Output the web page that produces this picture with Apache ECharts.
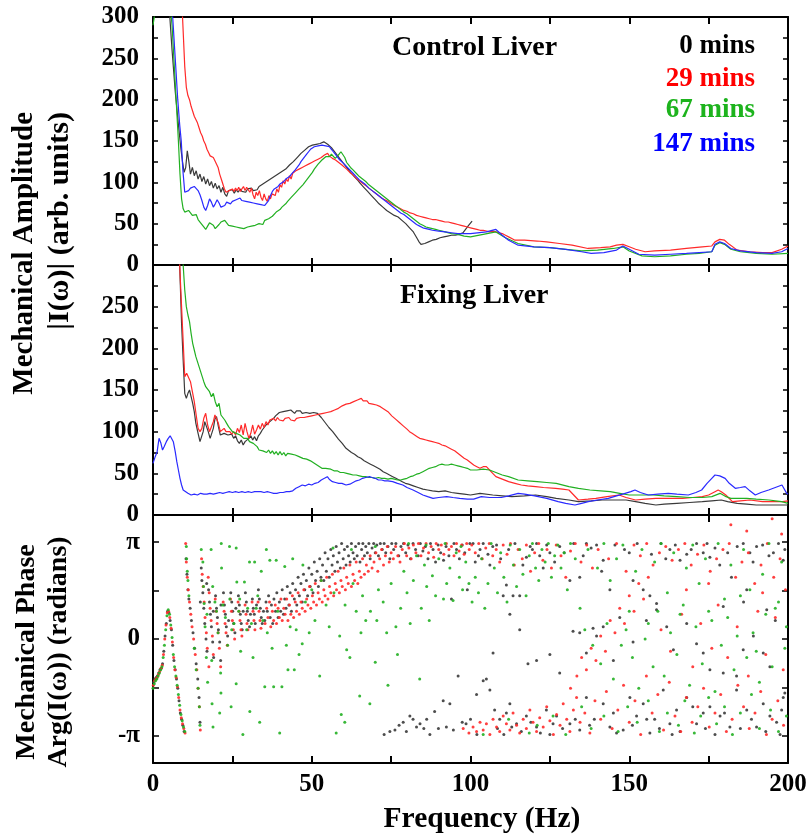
<!DOCTYPE html>
<html>
<head>
<meta charset="utf-8">
<script src="https://cdn.jsdelivr.net/npm/echarts@6/dist/echarts.min.js"></script>
<style>html,body{margin:0;padding:0;background:#fff}#c{width:811px;height:840px}</style>
</head>
<body>
<div id="c"></div>
<script>
// ---------- DATA ----------
const seriesNames = ['0 mins', '29 mins', '67 mins', '147 mins'];
const ampTicks = [0, 50, 100, 150, 200, 250, 300];
const freqTicks = [0, 50, 100, 150, 200];

// Control liver amplitude |I(w)| : [freq Hz, value]
const ctrl0 = [[0,600],[3,420],[4.5,330],[5.3,300],[6,260],[7,210],[8,170],[8.8,140],[9.3,125],[9.8,112],[10.3,118],[10.8,138],[11.3,125],[11.8,110],[12.4,118],[13,108],[13.6,114],[14.2,104],[14.8,110],[15.4,101],[16,107],[16.6,98],[17.2,104],[17.8,96],[18.4,101],[19,93],[19.6,99],[20.2,92],[20.8,96],[21.4,88],[22,94],[22.6,86],[23.2,83],[23.8,90],[24.4,88],[25,91],[25.6,87],[26.2,91],[26.8,88],[27.4,92],[28,89],[28.6,91],[29.2,88],[29.8,92],[30.4,90],[31,93],[31.6,90],[32.2,92],[32.8,91],[33.4,95],[34,94],[34.6,98],[35.2,97],[35.8,101],[36.4,100],[37,104],[37.6,103],[38.2,107],[38.8,106],[39.4,110],[40,109],[40.6,113],[41.2,112],[41.8,116],[42.4,117],[43,121],[43.6,120],[44.2,125],[44.8,126],[45.4,130],[46,131],[46.6,135],[47.2,136],[47.8,139],[48.4,141],[49,143],[49.6,142],[50.2,145],[50.8,144],[51.4,146],[52,145],[52.6,147],[53.2,146],[53.8,149],[54.4,147],[55,146],[55.6,144],[56.2,142],[56.8,140],[57.4,136],[58,134],[58.6,130],[59.2,127],[59.8,124],[60.4,121],[61,118],[61.6,115],[62.2,112],[62.8,110],[63.4,107],[64,105],[64.6,102],[65.2,99],[65.8,97],[66.4,94],[67,92],[67.6,89],[68.2,87],[68.8,84],[69.4,82],[70,79],[70.6,77],[71.2,74],[71.8,72],[72.4,70],[73,68],[73.6,66],[74.2,64],[74.8,63],[75.4,61],[76,60],[76.6,59],[77.2,58],[77.8,56],[78.4,54],[79,52],[79.6,50],[80.2,48],[80.8,45],[81.4,43],[82,40],[82.6,36],[83.2,32],[83.8,28],[84.4,25],[85,24],[85.6,26],[86.2,25],[86.8,28],[87.4,27],[88,30],[88.6,29],[89.2,31],[89.8,30],[90.4,33],[91,32],[91.6,34],[92.2,33],[92.8,35],[93.4,34],[94,36],[94.6,35],[95.2,36],[95.8,35],[96.4,37],[97,36],[97.6,39],[98.2,42],[98.8,45],[99.4,48],[100,50],[100.5,53]];
const ctrl29 = [[0,700],[5,500],[8,380],[9.3,300],[10,240],[10.5,215],[11,205],[11.5,200],[12,192],[12.5,186],[13,180],[13.5,176],[14,172],[14.5,166],[15,160],[15.5,156],[16,150],[16.5,146],[17,140],[17.5,136],[18,132],[18.5,134],[19,130],[19.5,126],[20,128],[20.5,118],[21,110],[21.5,104],[22,98],[22.5,92],[23,88],[23.5,86],[24,90],[24.5,88],[25,92],[25.5,89],[26,93],[26.5,90],[27,94],[27.5,89],[28,92],[28.5,95],[29,90],[29.5,94],[30,91],[30.5,88],[31,93],[31.5,85],[32,80],[32.5,88],[33,84],[33.5,90],[34,82],[34.5,78],[35,86],[35.5,80],[36,77],[36.5,84],[37,80],[37.5,86],[38,88],[38.5,84],[39,92],[39.5,88],[40,97],[40.5,94],[41,102],[41.5,98],[42,104],[42.5,101],[43,108],[43.5,104],[44,111],[44.5,109],[45,114],[45.5,112],[46,116],[46.5,114],[47,118],[47.5,116],[48,120],[48.5,118],[49,122],[49.5,120],[50,124],[50.5,122],[51,126],[51.5,125],[52,128],[52.5,127],[53,130],[53.5,129],[54,133],[54.5,131],[55,135],[55.5,132],[56,133],[56.5,129],[57,131],[57.5,127],[58,128],[58.5,124],[59,125],[59.5,121],[60,120],[61,116],[62,112],[63,109],[64,105],[65,102],[66,99],[67,96],[68,93],[69,90],[70,87],[71,84],[72,81],[73,79],[74,77],[75,74],[76,72],[77,70],[78,68],[79,66],[80,65],[81,63],[82,62],[83,60],[84,59],[85,58],[86,57],[87,56],[88,55],[89,55],[90,54],[91,53],[92,52],[93,52],[94,51],[95,50],[96,49],[97,48],[98,47],[99,46],[100,45],[101,44],[102,43],[103,42],[104,42],[105,41],[106,40],[107,41],[108,40],[109,39],[110,38],[111,36],[112,34],[113,32],[114,30],[117,30],[121,29],[124,28],[128,26],[132,24],[137,20],[141,21],[144,22],[146,24],[148,25],[150,22],[152,19],[155,16],[158,17],[163,18],[168,20],[173,22],[176,23],[177,28],[178.5,31],[180,30],[181.5,25],[184,18],[188,16],[192,15],[195,15],[198,19],[200,23]];
const ctrl67 = [[0,290],[0.6,305],[1.5,340],[3,360],[5,330],[6,290],[7,220],[8,150],[8.5,110],[9,80],[9.5,68],[10,64],[10.6,62],[11.2,66],[11.8,63],[12.4,60],[13,58],[13.6,61],[14.2,55],[14.8,52],[15.4,50],[16,46],[16.6,43],[17.2,47],[17.8,51],[18.4,53],[19,48],[19.6,44],[20.2,46],[20.8,49],[21.4,52],[22,50],[22.6,54],[23.2,51],[23.8,48],[24.4,50],[25,47],[25.6,49],[26.2,46],[26.8,48],[27.4,45],[28,47],[28.6,44],[29.2,43],[29.8,46],[30.4,44],[31,47],[31.6,45],[32.2,48],[32.8,46],[33.4,50],[34,52],[34.6,49],[35.2,54],[35.8,52],[36.4,56],[37,54],[37.6,59],[38.2,61],[38.8,64],[39.4,62],[40,67],[40.6,70],[41.2,69],[41.8,74],[42.4,77],[43,79],[43.6,82],[44.2,84],[44.8,87],[45.4,89],[46,92],[46.6,94],[47.2,97],[47.8,100],[48.4,103],[49,106],[49.6,109],[50.2,112],[50.8,116],[51.4,119],[52,122],[52.6,124],[53.2,127],[53.8,129],[54.4,131],[55,133],[55.6,131],[56.2,134],[56.8,132],[57.4,129],[58,131],[58.6,134],[59.2,137],[59.8,135],[60.4,130],[61,124],[61.6,121],[62.2,118],[63,115],[64,111],[65,107],[66,104],[67,101],[68,97],[69,94],[70,91],[71,88],[72,85],[73,82],[74,79],[75,76],[76,73],[77,70],[78,67],[79,64],[80,62],[81,59],[82,56],[83,53],[84,50],[85,48],[86,46],[87,45],[88,44],[89,43],[90,42],[92,40],[94,38],[96,37],[98,35],[100,34],[104,37],[108,40],[111,33],[115,26],[120,22],[125,21],[130,19],[135,17],[140,18],[145,20],[148,22],[150,17],[154,11],[158,10],[163,11],[168,13],[172,14],[176,16],[177,24],[178.5,27],[180,25],[182,19],[185,16],[190,14],[195,13],[200,14]];
const ctrl147 = [[0,700],[4,450],[6.2,300],[7,250],[7.8,200],[8.4,170],[8.9,150],[9.4,115],[10,88],[10.6,86],[11.2,90],[11.8,93],[12.4,91],[13,95],[13.6,93],[14.2,90],[14.8,85],[15.4,78],[16,70],[16.6,66],[17.2,72],[17.8,80],[18.4,76],[19,70],[19.6,74],[20.2,79],[20.8,75],[21.4,70],[22,68],[22.6,72],[23.2,76],[23.8,78],[24.4,74],[25,77],[25.6,75],[26.2,79],[26.8,77],[27.4,81],[28,78],[28.6,80],[29.2,77],[29.8,79],[30.4,76],[31,78],[31.6,75],[32.2,77],[32.8,74],[33.4,76],[34,73],[34.6,75],[35.2,72],[35.8,74],[36.4,78],[37,84],[37.6,89],[38.2,92],[38.8,90],[39.4,95],[40,98],[40.6,96],[41.2,101],[41.8,104],[42.4,102],[43,107],[43.6,110],[44.2,112],[44.8,115],[45.4,118],[46,121],[46.6,125],[47.2,128],[47.8,131],[48.4,134],[49,137],[49.6,140],[50.2,142],[50.8,143],[51.4,142],[52,144],[52.6,143],[53.2,145],[53.8,143],[54.4,144],[55,146],[55.6,143],[56.2,140],[56.8,137],[57.4,134],[58,131],[58.6,128],[59.2,126],[60,123],[61,119],[62,115],[63,111],[64,107],[65,103],[66,100],[67,97],[68,93],[69,90],[70,87],[71,84],[72,81],[73,78],[74,75],[75,72],[76,69],[77,66],[78,63],[79,61],[80,58],[81,55],[82,52],[83,49],[84,47],[85,45],[86,44],[87,43],[88,42],[90,41],[92,40],[94,39],[96,38],[98,38],[100,38],[105,40],[108,43],[110,36],[112,30],[115,24],[120,22],[125,21],[130,19],[135,16],[138,14],[142,15],[146,18],[148,23],[150,19],[153,13],[158,12],[163,13],[168,14],[172,15],[176,16],[177,25],[178.5,28],[180,26],[182,20],[185,17],[190,15],[195,14],[198,16],[200,20]];

// Fixing liver amplitude |I(w)|
const fix0 = [[0,700],[5,500],[7.5,380],[8.4,300],[9,230],[9.5,186],[10,146],[10.5,140],[11,146],[11.5,150],[12,142],[12.5,134],[13,124],[13.5,110],[14.2,98],[14.8,88],[15.3,86],[15.8,100],[16.3,112],[16.8,114],[17.4,100],[18,92],[18.4,90],[19,104],[19.5,115],[20,118],[20.6,106],[21.2,96],[21.8,94],[22.4,98],[23,100],[23.6,96],[24.2,94],[24.8,97],[25.4,92],[26,95],[26.6,89],[27.2,86],[27.8,90],[28.4,84],[29,88],[29.6,86],[30.2,92],[30.8,95],[31.4,90],[32,94],[32.6,89],[33.2,95],[33.8,98],[34.4,102],[35,104],[35.6,108],[36.2,106],[36.8,112],[37.4,114],[38,116],[38.6,119],[39.2,121],[39.8,123],[40.4,121],[41,124],[41.6,122],[42.2,125],[42.8,123],[43.4,126],[44,124],[44.6,122],[45.2,125],[45.8,123],[46.4,125],[47,122],[47.6,124],[48.2,123],[48.8,125],[49.4,122],[50,124],[50.6,123],[51.2,124],[51.8,122],[52.4,120],[53,117],[53.6,114],[54.2,111],[54.8,108],[55.4,105],[56,103],[56.6,100],[57.2,97],[57.8,94],[58.4,91],[59,89],[59.6,86],[60.2,83],[60.8,80],[61.5,78],[62.5,75],[63.5,73],[64.5,70],[65.5,68],[66.5,65],[67.5,63],[68.5,61],[69.5,59],[70.5,57],[71.5,55],[72.5,52],[73.5,50],[74.5,48],[75.5,46],[76.5,44],[77.5,42],[78.5,40],[79.5,38],[80.5,37],[82,35],[83.5,33],[85,31],[86.5,30],[88,29],[90,28],[92,29],[94,27],[96,26],[98,25],[100,24],[103,26],[107,24],[110,23],[113,22],[117,23],[120.5,24],[124,22],[127,20],[131,18],[134,16],[138,17],[141.5,18],[145,18],[149,18],[152,16],[155,14],[158.4,12],[161,13],[165,14],[169,15],[173,16],[176,17],[179,18],[181,16],[184,14],[187,13],[190,12],[194,12],[198,12],[200,12]];
const fix29 = [[0,700],[5,500],[7.5,360],[8.4,300],[9,250],[9.6,200],[10,166],[10.6,170],[11.2,172],[11.8,160],[12.4,148],[13,136],[13.6,120],[14.2,104],[14.8,100],[15.4,104],[16,116],[16.6,122],[17.2,108],[17.8,100],[18.4,98],[19,112],[19.5,120],[20,122],[20.6,110],[21.2,100],[21.8,100],[22.4,104],[23,100],[23.6,98],[24.2,100],[24.8,97],[25.4,100],[26,96],[26.6,104],[27.2,99],[27.8,108],[28.4,96],[29,110],[29.6,100],[30.2,92],[30.8,98],[31.4,108],[32,97],[32.6,102],[33.2,108],[33.8,103],[34.4,110],[35,105],[35.6,112],[36.2,108],[36.8,114],[37.4,112],[38,116],[38.6,113],[39.2,117],[39.8,114],[40.4,116],[41,113],[41.6,116],[42.2,114],[42.8,117],[43.4,114],[44,116],[44.6,113],[45.2,116],[45.8,114],[46.4,117],[47,115],[47.6,117],[48.2,115],[48.8,118],[49.4,116],[50,119],[50.6,117],[51.2,120],[51.8,118],[52.4,121],[53,119],[53.6,122],[54.2,120],[54.8,123],[55.4,121],[56,124],[56.6,122],[57.2,126],[57.8,124],[58.4,128],[59,127],[59.6,131],[60.2,129],[60.8,133],[61.4,131],[62,134],[62.6,132],[63.2,136],[63.8,134],[64.4,138],[65,136],[65.6,140],[66.2,137],[66.8,135],[67.4,137],[68,134],[68.6,136],[69.2,133],[69.8,134],[70.4,132],[71,132],[71.6,130],[72.2,129],[72.8,127],[73.4,126],[74,124],[74.6,122],[75.2,119],[75.8,117],[76.4,115],[77,113],[77.6,111],[78.2,109],[78.8,107],[79.4,105],[80,103],[80.8,100],[81.6,98],[82.4,96],[83.2,94],[84,92],[85,91],[86,90],[87,89],[88,88],[89,87],[90,86],[91,84],[92,83],[93,81],[94,79],[95,77],[96,74],[97,71],[98,68],[99,66],[100,63],[101,60],[102,58],[103,56],[104,58],[105,58],[106,54],[107,50],[108,46],[110,43],[112,40],[114,38],[116,36],[118,35],[120.5,34],[123,33],[126.8,32],[129,31],[131,30],[132.5,24],[134,18],[137,19],[139.5,20],[143,22],[146.8,24],[149,21],[152,18],[155,19],[158.4,20],[163,20],[166.8,20],[170,21],[173,22],[175,24],[177,28],[178,30],[179,28],[180.4,24],[182.5,16],[185,17],[188,18],[192,16],[195,16],[198.3,16],[200,17]];
const fix67 = [[0,800],[5,600],[8,420],[9.5,300],[10,270],[10.5,250],[11,240],[11.5,232],[12,218],[12.5,206],[13,198],[13.5,190],[14,184],[14.5,178],[15,172],[15.5,166],[16,160],[16.6,154],[17.2,156],[17.8,148],[18.4,142],[19,146],[19.6,136],[20.2,130],[20.8,134],[21.4,120],[22,118],[22.6,114],[23.2,110],[23.8,106],[24.4,104],[25,100],[25.6,102],[26.2,98],[26.8,100],[27.4,96],[28,98],[28.6,92],[29.2,90],[29.8,92],[30.4,88],[31,90],[31.6,86],[32.2,84],[32.8,82],[33.4,78],[34,80],[34.6,77],[35.2,79],[35.8,75],[36.4,78],[37,74],[37.6,77],[38.2,73],[38.8,76],[39.4,72],[40,76],[40.6,72],[41.2,75],[41.8,71],[42.4,74],[43,72],[43.6,73],[44.2,71],[44.8,72],[45.4,70],[46,70],[46.6,68],[47.2,68],[47.8,66],[48.4,67],[49,65],[49.6,65],[50.2,63],[50.8,62],[51.4,60],[52,59],[52.6,57],[53.2,56],[53.8,55],[54.4,56],[55,54],[56,55],[57,53],[58,53],[59,51],[60,51],[61,50],[62,49],[63,48],[64,48],[65,47],[66,46],[67,46],[68,45],[69,45],[70,44],[71,45],[72,44],[73,44],[74,43],[75,44],[76,43],[77,42],[78,42],[79,43],[80,44],[81,46],[82,47],[83,49],[84,50],[85,52],[86,54],[87,56],[88,57],[89,58],[90,60],[91,61],[92,60],[93,60],[94,61],[95,60],[96,59],[97,58],[98,57],[99,56],[100,54],[102,54],[104,55],[106,54],[108,51],[110,48],[112,46],[115,42],[118,41],[121,40],[124,39],[127,38],[131,34],[134,32],[137.6,30],[141,29],[144,28],[147,26],[150,24],[154,24],[157.5,24],[161,23],[165,22],[169,21],[173,21],[176,22],[178.6,26],[180.5,22],[182,20],[187,20],[190,19],[194,18],[198,16],[200,14]];
const fix147 = [[0,62],[0.7,70],[1.3,76],[1.9,92],[2.5,86],[3,78],[3.5,82],[4.2,88],[4.8,92],[5.4,95],[5.9,96],[6.4,88],[7,76],[7.5,64],[8,54],[8.5,44],[9,36],[9.5,30],[10,28],[11,26],[12,24],[13,25],[14,24],[15,26],[16,25],[17,25],[18,26],[19,25],[20,26],[21,27],[22,26],[23,27],[24,28],[25,27],[26,28],[27,27],[28,28],[29,27],[30,28],[31,27],[32,28],[33,28],[34,28],[35,27],[36,28],[37,27],[38,26],[39,26],[40,27],[41,27],[42,28],[43,28],[44,29],[45,32],[46,34],[47,36],[48,35],[49,37],[50,36],[51,38],[52,39],[53,42],[54,44],[54.9,46],[55.5,43],[56.5,40],[57.5,39],[58.5,38],[59.5,38],[60.8,36],[62,37],[63,39],[64,41],[65,42],[66,44],[67,45],[68.2,46],[69,45],[70,44],[71,42],[72,42],[73,41],[74,41],[75.5,40],[77,38],[78.7,36],[80,33],[81.9,30],[83.5,27],[85,24],[86.5,22],[88.2,20],[90,21],[92.5,22],[94.5,21],[96.6,20],[99,19],[101,19],[103.4,22],[106,21],[109.7,21],[112,23],[115,26],[117,25],[120.2,23],[124,20],[127.6,16],[130,14],[132.9,12],[135,14],[137.1,16],[140,18],[143.4,20],[146,23],[148.7,26],[150.5,28],[151.8,30],[153.5,27],[156,24],[159,25],[162.3,26],[165,25],[168.6,24],[171,27],[172.8,30],[174.5,38],[176,44],[177,48],[178.5,47],[180.2,44],[181.5,38],[183.4,32],[185,33],[186.5,34],[188,29],[189.7,24],[191.5,27],[193.9,30],[196,33],[198.1,36],[199.6,26],[200,25]];

// Mechanical phase Arg(I(w)) in radians : [freq Hz, phase]
const phase0 = [[0.2,-1.4],[0.6,-1.3],[1.0,-1.25],[1.4,-1.2],[1.8,-1.1],[2.2,-1.0],[2.6,-0.95],[3.0,-0.8],[3.4,-0.4],[3.8,0.1],[4.2,0.5],[4.6,0.9],[5.0,0.85],[5.4,0.6],[5.8,0.3],[6.2,-0.2],[6.6,-0.7],[7.0,-1.0],[7.4,-1.3],[7.8,-1.6],[8.2,-2.0],[8.6,-2.4],[9.0,-2.6],[9.4,-2.8],[9.8,-3.0],
[10.4,2.6],[10.7,2.1],[11.0,1.6],[11.3,1.3],[11.7,1.0],[12.1,0.6],[12.6,0.2],[13.1,-0.3],[13.6,-0.8],[14.1,-1.3],[14.5,-1.9],[14.8,-2.7],[15.2,2.3],[15.4,1.9],[15.7,1.5],[16.0,1.0],[16.3,0.5],[16.7,0.0],[17.0,-0.4],[17.5,1.6],[17.8,1.2],[18.1,0.8],[18.4,0.4],[18.8,-0.1],[19.1,-0.6],[19.7,1.4],[20.0,1.0],[20.3,0.7],[20.6,0.3],[21.0,-0.1],[21.3,-0.7],[22.2,1.5],[22.5,1.1],[22.8,0.8],[23.1,0.4],[23.5,0.1],[24.5,1.5],[24.8,1.2],[25.1,0.9],[25.4,0.5],[25.8,0.2],[26.9,1.4],[27.2,1.1],[27.5,0.8],[27.8,0.5],[28.1,0.3],[29.1,1.5],[29.4,1.2],[29.7,0.9],[30.0,0.6],[30.4,0.4],[31.3,1.3],[31.6,1.0],[31.9,0.8],[32.2,0.5],[33.2,1.6],[33.5,1.3],[33.8,1.0],[34.1,0.7],[34.4,0.5],
[14.9,1.2],[16.9,1.8],[19.0,0.9],[21.4,1.1],[23.8,0.6],[26.1,1.0],[28.4,0.9],[30.7,0.8],[32.6,1.1],[34.8,0.9],
[35.2,0.6],[35.6,1.2],[36.0,0.9],[36.4,1.4],[36.9,0.7],[37.3,1.1],[37.7,0.5],[38.1,1.3],[38.6,0.9],[39.0,1.5],[39.4,0.7],[39.8,1.2],[40.2,0.9],[40.7,1.6],[41.1,0.8],[41.5,1.3],[41.9,1.0],[42.3,1.7],[42.8,1.1],[43.2,1.5],[43.6,0.9],[44.0,1.8],[44.5,1.3],[44.9,1.6],[45.3,1.1],[45.7,2.0],[46.1,1.4],[46.6,1.8],[47.0,1.2],[47.4,2.1],[47.8,1.6],[48.3,1.9],[48.7,1.4],[49.1,2.3],[49.5,1.7],[50.0,2.1],[50.4,1.5],[50.8,2.5],[51.2,1.9],[51.7,2.2],[52.1,1.7],[52.5,2.6],[52.9,2.0],[53.4,2.4],[53.8,1.9],[54.2,2.8],[54.6,2.2],[55.1,2.6],[55.5,2.0],[56.0,2.9],[56.4,2.4],[56.8,2.7],[57.3,2.2],[57.7,3.0],[58.1,2.5],[58.6,2.8],[59.0,2.3],[59.4,3.1],[59.9,2.6],[60.3,2.9],[60.8,2.4],[61.2,3.0],[61.6,2.7],[62.1,2.5],[62.5,3.1],[63.0,2.8],[63.4,2.6],[63.8,3.0],[64.3,2.7],[64.8,3.1],[65.2,2.5],[65.7,2.9],[66.1,3.1],[66.6,2.7],[67.0,3.0],[67.5,2.8],[68.0,3.1],[68.4,2.6],[69.0,2.95],[69.5,3.1],[70.0,2.8],[70.5,3.05],[71.0,2.7],[71.6,3.1],[72.2,2.9],[72.8,3.1],[73.3,2.8],[74.0,3.0],[74.6,2.6],[75.2,3.1],
[75.8,2.9],[76.5,3.1],[77.4,2.7],[78.1,3.0],[78.9,3.1],[79.6,2.8],[80.3,3.05],[81.1,2.6],[81.9,3.1],[82.7,2.9],[83.5,2.7],[84.2,3.1],[85.0,2.85],[85.8,3.0],[86.6,2.6],[87.4,3.1],[88.2,2.9],[89.0,2.5],[89.8,3.05],[90.6,2.8],[91.5,2.55],[92.3,3.0],[93.2,2.7],[94.0,1.3],[94.8,3.1],[95.6,2.9],[96.5,2.6],[97.4,3.05],[98.2,2.8],[99.0,1.6],[99.8,3.1],
[72.8,-3.1],[74.6,-3.0],[76.2,-2.95],[77.5,-2.8],[78.8,-2.7],[79.8,-3.0],[80.9,-2.5],[81.9,-2.6],[83.0,-2.85],[84.1,-2.75],[85.3,-2.9],[86.2,-2.6],[87.2,-3.1],[88.7,-2.35],[89.9,-2.9],[91.4,-2.0],[92.4,-2.85],[93.5,-2.1],[94.6,-2.95],[96.1,-1.2],[97.4,-2.7],[98.6,-2.75],[100.0,-2.6],[101.9,-1.8],
[100.8,3.1],[102.5,2.7],[104.0,3.1],[106.1,2.4],[108.2,3.05],[110.3,1.4],[111.3,1.75],[113.4,1.4],[115.5,1.4],[117.6,2.65],[119.5,2.9],[120.8,3.1],[122.9,2.3],[125.0,2.8],[128.1,3.0],[131.3,1.9],[134.4,2.0],[136.5,3.1],[139.7,3.05],[141.3,2.2],[141.8,2.55],[143.9,1.6],[151.2,1.9],[154.4,1.6],[156.5,1.4],[158.6,1.15],[162.8,2.9],[166.0,2.55],[168.1,2.75],[171.2,3.1],[173.3,2.8],[175.4,2.65],[179.6,1.05],[182.2,2.0],[185.9,3.1],[187.0,1.6],[190.1,3.0],[193.3,0.95],[195.4,2.8],[198.5,2.55],[145.5,3.05],[148.5,2.9],[160,3.1],[177,2.95],[188,2.8],[197,3.1],
[101.5,2.5],[103,2.9],[105.5,2.75],[107,3.0],[109.5,2.6],[112,2.9],[114,3.1],[116.5,2.4],[118.8,3.0],[121.8,2.7],[124,3.05],[126.5,2.5],[129.5,2.8],[132.5,3.1],[135.5,2.7],[138,2.95],[150,2.8],[152.5,3.1],[157,2.75],[161.5,2.6],[164.5,3.05],[169.5,2.9],[174.5,3.1],[178.5,2.4],[181,2.8],[184,3.0],[189,2.5],[192,3.05],[194,2.7],[199,2.9],
[107.1,-0.45],[112.4,0.8],[115.5,0.3],[118.1,-0.8],[120.8,-0.7],[125.0,-0.5],[128.1,-1.1],[132.3,0.25],[134.4,0.2],[136.5,-0.45],[138.6,0.35],[139.7,0.1],[141.8,0.4],[145.0,-0.7],[147.0,0.7],[151.2,-0.1],[155.4,0.6],[158.6,0.95],[161.8,0.4],[163.9,-0.35],[168.1,0.5],[171.2,-0.15],[173.3,-0.45],[175.4,-1.0],[179.6,-1.1],[183.8,-1.2],[185.9,-0.35],[189.1,0.1],[192.2,-0.45],[194.3,-0.9],[198.5,-1.9],[196,0.6],[186,1.2],
[104.0,-1.35],[105.0,-1.3],[106.1,-1.65],[107.6,-2.3],[109.2,-2.6],[111.3,-2.4],[112.4,-2.1],[114.5,-2.75],[117.6,-2.5],[120.8,-2.85],[123.9,-2.3],[127.1,-2.5],[131.3,-2.75],[134.4,-2.95],[136.5,-1.9],[141.8,-2.1],[143.9,-2.85],[146.0,-3.05],[148.1,-2.95],[150.2,-1.9],[152.3,-2.5],[154.4,-2.1],[156.5,-3.05],[160.7,-1.65],[162.8,-2.75],[164.9,-2.3],[168.1,-1.9],[171.2,-2.75],[173.3,-2.4],[175.4,-2.2],[178.6,-2.5],[181.7,-2.85],[183.8,-1.65],[187.0,-2.3],[190.1,-2.85],[192.2,-2.1],[194.3,-2.5],[196.4,-2.7],[199.0,-1.75],[102,-3.1],[116,-3.0],[125,-3.1],[139,-2.6],[158,-2.6],[166,-3.0],[177,-3.1],[185,-2.9],[197.5,-3.1],
[108.5,-2.9],[110.5,-3.1],[113,-2.85],[119,-2.7],[122,-3.05],[126,-2.75],[129,-2.9],[133,-2.6],[137.5,-2.8],[145,-2.4],[151,-2.8],[155.5,-2.6],[159.5,-2.9],[163.5,-3.1],[170,-2.2],[174,-2.9],[180,-2.4],[188.5,-2.6],[193,-3.0],[198,-2.3]];
const phase29 = [[0.1,-1.5],[0.5,-1.35],[0.9,-1.3],[1.3,-1.25],[1.7,-1.15],[2.1,-1.05],[2.5,-0.95],[2.9,-0.85],[3.3,-0.5],[3.7,0.0],[4.1,0.45],[4.5,0.85],[4.9,0.9],[5.3,0.7],[5.7,0.35],[6.1,-0.1],[6.5,-0.6],[6.9,-1.0],[7.3,-1.25],[7.7,-1.55],[8.1,-1.9],[8.5,-2.3],[8.9,-2.55],[9.3,-2.75],[9.7,-2.9],[10.1,-3.05],
[10.3,3.1],[10.5,2.5],[10.8,2.0],[11.1,1.6],[11.5,1.2],[11.9,0.8],[12.3,0.4],[12.8,0.0],[13.3,-0.5],[13.8,-1.0],[14.2,-1.6],[14.6,-2.2],[14.9,-2.95],[15.3,2.6],[15.5,2.1],[15.8,1.7],[16.1,1.2],[16.4,0.7],[16.8,0.2],[17.1,-0.3],[17.6,-0.9],[17.4,2.0],[17.7,1.5],[18.0,1.0],[18.3,0.6],[18.7,0.1],[19.0,-0.5],[19.6,1.3],[19.9,0.9],[20.2,0.5],[20.5,0.2],[20.9,-0.3],[21.3,-0.9],[22.1,1.2],[22.4,0.9],[22.7,0.5],[23.0,0.2],[23.4,-0.2],[24.4,1.3],[24.7,0.9],[25.0,0.6],[25.3,0.3],[25.7,0.0],[26.8,1.2],[27.1,0.9],[27.4,0.6],[27.7,0.3],[28.0,0.1],[29.0,1.1],[29.3,0.8],[29.6,0.5],[29.9,0.3],[31.2,1.2],[31.5,0.9],[31.8,0.6],[32.1,0.3],[33.1,1.2],[33.4,0.9],[33.7,0.6],[34.0,0.35],
[35.3,0.5],[35.8,1.0],[36.2,0.7],[36.7,1.2],[37.1,0.4],[37.6,0.9],[38.0,0.6],[38.5,1.1],[38.9,0.5],[39.4,1.0],[39.8,0.7],[40.3,1.3],[40.7,0.6],[41.2,1.0],[41.6,0.8],[42.1,1.3],[42.5,0.6],[43.0,1.1],[43.4,0.8],[43.9,1.4],[44.3,0.7],[44.8,1.2],[45.2,0.9],[45.7,1.5],[46.1,0.8],[46.6,1.2],[47.0,1.0],[47.5,1.6],[47.9,0.9],[48.4,1.3],[48.8,1.1],[49.3,1.7],[49.7,1.0],[50.2,1.4],[50.6,1.2],[51.1,1.8],[51.5,1.1],[52.0,1.5],[52.4,1.3],[52.9,1.9],[53.3,1.2],[53.8,1.6],[54.2,1.4],[54.7,2.0],[55.1,1.3],[55.6,1.7],[56.0,1.5],[56.5,2.1],[56.9,1.4],[57.4,1.8],[57.8,1.6],[58.3,2.2],[58.7,1.5],[59.2,1.9],[59.6,1.7],[60.1,2.3],[60.6,1.6],[61.0,2.0],[61.5,1.8],[62.0,2.4],[62.5,1.7],[63.0,2.1],[63.5,1.9],[64.0,2.5],[64.5,1.8],[65.0,2.2],[65.5,2.0],[66.0,2.6],[66.6,2.1],[67.2,2.4],[67.8,2.2],[68.4,2.7],[69.0,2.3],[69.6,2.5],[70.2,2.8],[70.8,2.2],[71.4,2.6],[72.0,2.9],[72.6,2.4],[73.2,2.7],[73.8,3.0],[74.4,2.5],[75.0,2.8],[75.7,2.6],[76.4,3.0],[77.1,2.7],[77.8,2.5],[78.5,2.9],[79.2,3.1],[79.9,2.7],[80.6,2.95],[81.3,2.6],[82.0,3.05],[82.8,2.8],[83.6,3.1],[84.4,2.7],[85.2,2.95],[86.0,3.1],[86.8,2.8],[87.6,3.0],[88.4,2.65],[89.2,3.1],[90.0,2.9],[90.8,3.05],[91.6,2.75],[92.4,3.1],[93.2,2.9],[94.0,3.0],[94.8,2.7],[95.6,3.1],[96.4,2.85],[97.2,3.05],[98.0,2.75],[98.8,3.1],[99.6,2.9],
[100.4,3.05],[101.5,2.8],[102.6,3.1],[103.7,2.6],[104.8,2.95],[105.9,3.1],[107.0,2.7],[108.1,2.9],[109.2,2.5],[110.3,3.05],[111.5,2.75],[112.6,3.1],[113.8,2.4],[115.0,2.9],[116.3,2.6],[117.6,3.05],[118.9,2.2],[120.2,2.8],[121.5,3.1],[122.8,2.55],[124.1,2.9],[125.5,2.3],[127.0,3.05],[128.5,2.7],[130.0,2.0],[131.5,2.85],[133.0,3.1],[134.8,2.5],[136.6,3.05],[138.4,2.3],[140.2,2.9],[143.5,2.6],[146.0,3.1],[149.0,2.2],[151.5,3.05],[153.5,2.7],[155.5,3.1],[157.5,2.4],[159.5,2.8],[161.5,3.0],[163.5,2.55],[165.5,2.9],[167.5,3.1],[169.5,2.4],[171.5,2.75],[173.5,3.05],[175.5,2.2],[177.5,2.6],[179.5,2.9],[181.5,3.1],[183.5,2.0],[185.5,2.5],[187.5,2.8],[189.5,1.8],[191.5,2.4],[193.5,3.1],[195.5,2.0],[197.5,2.6],[199.2,1.6],[182,3.7],[187,3.5],[195,3.9],[198,3.4],
[131.5,-1.6],[133.5,-1.2],[135.0,-0.6],[136.5,-1.0],[138.0,-0.3],[139.5,-0.7],[141.0,0.1],[142.5,-0.4],[144.0,0.6],[145.5,0.2],[147.0,1.0],[148.5,0.5],[150.0,1.4],[151.5,0.9],[153.0,1.8],[154.5,1.3],[156.0,2.0],[160.0,0.3],[163.0,-0.4],[166.5,0.8],[170.0,-0.9],[172.5,0.5],[176.0,-0.3],[178.0,1.1],[181.0,-0.6],[184.0,0.4],[187.5,-1.2],[190.5,0.9],[193.0,-0.5],[196.0,0.7],[198.5,-1.0],[168,1.6],[175,1.8],[192,1.5],
[97.7,-2.9],[99.5,-3.05],[100.8,-2.85],[101.9,-3.0],[103.0,-2.7],[104.0,-2.95],[105.0,-2.75],[106.1,-3.1],[107.1,-2.6],[108.2,-2.85],[109.2,-3.0],[110.3,-2.5],[111.3,-2.75],[112.4,-2.95],[113.4,-2.4],[114.5,-2.8],[115.5,-3.05],[116.6,-2.6],[117.6,-2.9],[118.7,-2.3],[119.7,-2.7],[120.8,-3.0],[121.8,-2.55],[122.9,-2.85],[124.0,-2.2],[125.0,-2.65],[126.1,-3.1],[127.1,-2.45],[128.2,-2.8],[129.2,-2.1],[130.3,-2.6],[131.3,-3.0],[132.4,-2.3],[133.4,-1.9],[134.5,-2.7],[136.0,-2.4],[137.6,-3.05],[139.2,-2.0],[141.0,-2.6],[142.8,-1.7],[144.6,-2.9],[146.4,-2.3],[148.2,-1.5],[150.0,-2.7],[151.8,-2.0],[153.6,-3.1],[155.4,-1.2],[157.2,-2.4],[159.0,-1.8],[160.8,-2.95],[162.6,-1.4],[164.4,-2.5],[166.2,-3.0],[168.0,-1.9],[169.8,-2.7],[171.6,-2.2],[173.4,-1.6],[175.2,-2.85],[177.0,-2.4],[178.8,-1.8],[180.6,-3.0],[182.4,-2.6],[184.2,-1.5],[186.0,-2.2],[187.8,-2.9],[189.6,-2.4],[191.4,-1.7],[193.2,-3.1],[195.0,-2.6],[196.8,-2.0],[198.6,-2.8]];
const phase67 = [[0.0,-1.6],[0.4,-1.45],[0.8,-1.35],[1.2,-1.3],[1.6,-1.2],[2.0,-1.1],[2.4,-1.0],[2.8,-0.9],[3.2,-0.6],[3.6,-0.2],[4.0,0.3],[4.4,0.75],[4.8,0.95],[5.2,0.8],[5.6,0.45],[6.0,0.05],[6.4,-0.5],[6.8,-0.9],[7.2,-1.2],[7.6,-1.5],[8.0,-1.8],[8.4,-2.15],[8.8,-2.45],[9.2,-2.65],[9.6,-2.85],[10.0,-3.0],
[10.5,3.0],[10.6,2.6],[10.8,2.2],[11.0,1.9],[11.3,1.4],[13.0,-0.3],[13.6,-1.0],[14.2,-1.6],[14.6,-2.2],[14.8,-2.8],[15.2,2.9],[15.7,2.5],[15.9,1.7],[16.1,1.15],[16.4,0.4],[16.8,-0.6],[17.2,-1.4],[18.3,2.9],[18.8,1.7],[18.5,-0.7],[18.6,-2.1],[18.9,-2.85],[20.0,0.9],[20.5,0.2],[21.5,3.1],[21.6,2.3],[21.3,-1.1],[21.4,-1.75],[21.0,-2.4],[22.8,0.7],[23.5,-0.2],[24.1,3.0],[24.2,1.3],[24.6,-2.2],[25.5,0.5],[26.2,2.95],[26.4,1.85],[26.2,-1.45],[27.0,0.9],[27.6,-0.4],[28.3,-3.1],[28.8,1.85],[29.5,0.3],[30.4,2.5],[30.5,-2.35],[31.5,-0.6],[32.0,2.5],[32.5,1.0],[33.6,-2.7],[34.1,2.2],[34.6,0.6],[35.2,-1.55],[35.7,2.9],[36.0,0.2],[36.8,2.55],[37.5,-0.3],[38.0,-1.55],[38.8,2.55],[39.3,0.9],[39.9,-3.05],[40.6,-1.55],[41.5,2.35],[42.0,-0.2],[42.5,-1.0],[43.2,0.4],[44.0,2.6],[44.5,-1.0],[45.1,0.3],[46.0,-0.5],[47.2,2.4],[47.0,-0.15],[48.0,1.2],[49.2,0.2],[50.0,1.6],[51.0,0.6],[52.5,-1.2],[53.0,1.9],[54.5,1.1],[55.5,0.4],[56.7,2.95],[57.0,1.5],[57.7,-3.05],[58.8,0.1],[59.3,-2.45],[60.4,-2.7],[60.5,1.1],[61.0,-0.35],[62.0,-0.6],[63.0,1.8],[64.0,0.9],[65.1,-1.85],[65.5,0.2],[66.0,1.4],[67.0,0.6],[68.3,-2.1],[68.5,0.9],[70.0,-0.75],[70.5,0.6],[71.0,1.6],[72.5,1.2],[73.6,0.2],[74.0,-1.5],[75.0,1.8],[76.5,0.4],[77.0,-0.5],[78.0,1.0],[79.0,2.2],[80.0,1.5],[81.0,0.5],[82.0,1.9],[83.0,2.7],[84.0,-1.3],[84.5,1.0],[85.5,2.4],[86.2,1.7],[87.0,0.6],[88.0,2.05],[89.0,1.4],[90.0,2.6],[91.5,1.3],[92.5,1.8],[93.5,2.3],[94.5,1.25],[95.5,2.8],[96.5,2.0],[97.5,1.6],[98.5,2.5],[99.5,1.8],
[17.0,0.8],[19.5,1.2],[22.0,1.1],[24.8,0.3],[27.3,1.3],[29.8,1.0],[31.0,0.5],[33.0,1.4],[62.5,2.9],[70,3.0],[80.5,3.1],[86,3.05],[92,3.1],[97,3.0],
[100.5,1.2],[101.5,2.0],[102.5,1.5],[103.5,2.6],[104.5,1.0],[105.5,1.8],[106.5,3.1],[107.5,2.3],[108.5,1.5],[109.5,2.8],[110.5,2.0],[111.5,1.2],[112.5,3.05],[113.5,2.4],[114.5,1.7],[115.5,2.9],[116.5,2.1],[117.5,1.4],[118.5,2.7],[119.5,3.1],[120.5,2.3],[121.5,1.9],[122.5,2.9],[123.5,2.5],[124.5,3.1],[125.5,2.0],[126.5,2.7],[127.5,3.05],[128.5,2.3],[129.5,2.8],[130.5,1.6],[131.5,3.1],[133.0,2.6],[134.5,1.0],[136.0,0.3],[137.0,2.9],[138.5,-0.2],[140.0,2.3],
[142.0,3.1],[144.0,1.9],[146.0,2.6],[148.0,3.05],[150.0,0.9],[152.0,2.2],[154.0,2.9],[156.0,0.5],[158.0,2.5],[160.0,3.1],[162.0,1.5],[164.0,2.8],[166.0,0.8],[168.0,2.3],[170.0,3.05],[172.0,1.8],[174.0,2.6],[176.0,0.6],[178.0,3.1],[180.0,1.3],[182.0,2.4],[184.0,0.1],[186.0,2.9],[188.0,1.6],[190.0,-0.4],[192.0,2.1],[194.0,3.1],[196.0,1.0],[198.0,2.5],[199.5,0.4],
[141.0,-0.8],[143.0,0.5],[145.0,-1.3],[147.5,-0.2],[149.0,0.3],[151.0,-0.6],[153.0,-1.6],[155.0,0.0],[157.5,-0.9],[159.0,0.9],[161.0,-1.2],[163.0,0.2],[165.0,-0.5],[167.0,1.1],[169.0,-1.5],[171.0,0.4],[173.0,-0.8],[175.0,0.9],[177.0,-1.7],[179.0,-0.2],[181.0,0.7],[183.0,-1.0],[185.0,1.4],[187.0,-0.6],[189.0,0.2],[191.0,-1.4],[193.0,0.8],[195.0,-0.9],[197.0,1.2],[199.0,-0.3],
[104.0,-3.1],[112.0,-2.6],[118.5,-3.05],[121.0,-2.8],[126.0,-2.5],[130.0,-3.1],[135.0,-2.2],[138.0,-2.9],[142.0,-2.5],[146.5,-3.0],[149.5,-2.2],[152.5,-2.7],[156.0,-2.0],[159.5,-3.0],[162.0,-2.4],[165.5,-2.8],[167.5,-2.0],[170.5,-3.05],[172.5,-2.5],[175.0,-1.9],[177.5,-2.75],[180.0,-2.2],[182.5,-3.1],[185.0,-2.4],[188.5,-1.8],[191.0,-2.9],[194.5,-2.3],[197.0,-3.0],[199.5,-2.5]];

// ---------- STYLE ----------
const FONT = 'Liberation Serif';
const lineColors = ['#3a3a3a', '#ff2a2a', '#22b022', '#2a2aff'];
const textColors = ['#000000', '#ff0000', '#1db31d', '#0000ff'];
const PI = Math.PI;

const chart = echarts.init(document.getElementById('c'), null, {renderer: 'canvas'});

const grids = [
  {left: 153, right: 23, top: 17, height: 248},
  {left: 153, right: 23, top: 265, height: 250},
  {left: 153, right: 23, top: 515, height: 248}
].map(g => Object.assign({containLabel: false, outerBoundsMode: 'none'}, g));

const axisLine = {show: true, onZero: false, lineStyle: {color: '#000', width: 2}};
const labelStyle = {fontFamily: FONT, fontWeight: 'bold', fontSize: 25, color: '#000'};

const xAxes = [];
const yAxes = [];
for (let g = 0; g < 3; g++) {
  ['bottom', 'top'].forEach(pos => {
    xAxes.push({
      type: 'value', gridIndex: g, position: pos, min: 0, max: 200, interval: 25,
      axisLine: axisLine,
      axisTick: {show: true, inside: true, length: 7, lineStyle: {color: '#000', width: 2}},
      axisLabel: Object.assign({show: g === 2 && pos === 'bottom', margin: 9,
        formatter: v => (freqTicks.indexOf(v) >= 0 ? String(v) : '')}, labelStyle),
      splitLine: {show: false}
    });
  });
  ['left', 'right'].forEach(pos => {
    if (g < 2) {
      yAxes.push({
        type: 'value', gridIndex: g, position: pos, min: 0, max: 300, interval: 25,
        axisLine: axisLine,
        axisTick: {show: true, inside: true, length: 5, lineStyle: {color: '#000', width: 1.5}},
        axisLabel: Object.assign({show: pos === 'left', margin: 14,
          formatter: v => (ampTicks.indexOf(v) >= 0 && !(g === 1 && v === 300)) ? String(v) : ''}, labelStyle),
        splitLine: {show: false}
      });
    } else {
      yAxes.push({
        type: 'value', gridIndex: g, position: pos, min: -4.02, max: 4.02,
        axisLine: axisLine,
        axisTick: {show: true, inside: true, length: 6, lineStyle: {color: '#000', width: 1.5},
          customValues: [-PI, -PI / 2, 0, PI / 2, PI]},
        axisLabel: Object.assign({show: pos === 'left', margin: 13,
          customValues: [-PI, 0, PI],
          formatter: v => (Math.abs(v - PI) < 1e-6 ? 'π' : (Math.abs(v + PI) < 1e-6 ? '-π' : '0'))}, labelStyle),
        splitLine: {show: false}
      });
    }
  });
}

const series = [];
[ctrl0, ctrl29, ctrl67, ctrl147].forEach((d, i) => series.push({
  type: 'line', name: seriesNames[i] + ' ctrl', xAxisIndex: 0, yAxisIndex: 0, data: d,
  showSymbol: false, clip: true, lineStyle: {color: lineColors[i], width: 1.2}, silent: true
}));
[fix0, fix29, fix67, fix147].forEach((d, i) => series.push({
  type: 'line', name: seriesNames[i] + ' fix', xAxisIndex: 2, yAxisIndex: 2, data: d,
  showSymbol: false, clip: true, lineStyle: {color: lineColors[i], width: 1.2}, silent: true
}));
[phase0, phase29, phase67].forEach((d, i) => series.push({
  type: 'scatter', name: seriesNames[i] + ' phase', xAxisIndex: 4, yAxisIndex: 4, data: d,
  symbol: 'circle', symbolSize: 3, clip: true, itemStyle: {color: lineColors[i], opacity: 0.9}, silent: true
}));

const T = (text, x, y, opts) => Object.assign({
  type: 'text', x: x, y: y, silent: true,
  style: Object.assign({text: text, fontFamily: FONT, fontWeight: 'bold', fontSize: 27, fill: '#000',
    align: 'center', verticalAlign: 'middle'}, opts && opts.style)
}, opts && opts.el);

const graphic = [
  T('Control Liver', 392, 48, {style: {align: 'left', fontSize: 28}}),
  T('Fixing Liver', 400, 296, {style: {align: 'left', fontSize: 28}}),
  T(seriesNames[0], 755, 46, {style: {align: 'right', fontSize: 27, fill: textColors[0]}}),
  T(seriesNames[1], 755, 79, {style: {align: 'right', fontSize: 27, fill: textColors[1]}}),
  T(seriesNames[2], 755, 110, {style: {align: 'right', fontSize: 27, fill: textColors[2]}}),
  T(seriesNames[3], 755, 144, {style: {align: 'right', fontSize: 27, fill: textColors[3]}}),
  T('Mechanical Amplitude', 25, 112, {style: {align: 'right', fontSize: 29}, el: {rotation: PI / 2}}),
  T('|I(ω)| (arb. units)', 60, 112, {style: {align: 'right', fontSize: 30}, el: {rotation: PI / 2}}),
  T('Mechanical Phase', 27, 652, {style: {fontSize: 28}, el: {rotation: PI / 2}}),
  T('Arg(I(ω)) (radians)', 59, 652, {style: {fontSize: 28}, el: {rotation: PI / 2}}),
  T('Frequency (Hz)', 482, 819, {style: {fontSize: 29.5}})
];

chart.setOption({
  animation: false,
  backgroundColor: '#fff',
  grid: grids,
  xAxis: xAxes,
  yAxis: yAxes,
  series: series,
  graphic: graphic
});
</script>
</body>
</html>
